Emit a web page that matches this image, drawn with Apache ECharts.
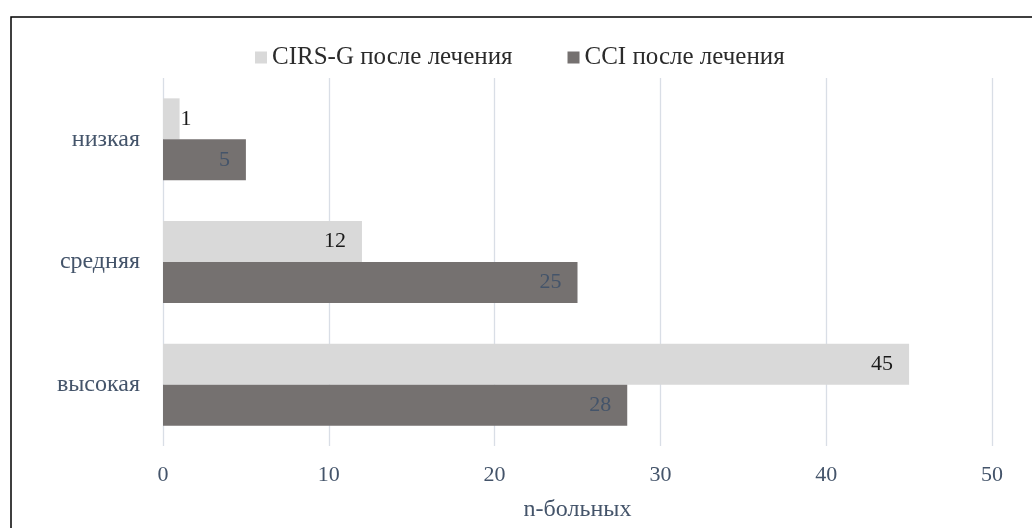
<!DOCTYPE html>
<html>
<head>
<meta charset="utf-8">
<script src="https://cdn.jsdelivr.net/npm/echarts@6/dist/echarts.min.js"></script>
<style>
  html, body { margin: 0; padding: 0; background: #fff; }
  #chart { width: 1032px; height: 528px; }
</style>
</head>
<body>
<div id="chart"></div>
<script>
// Risk level categories, top to bottom
const categories = ['низкая', 'средняя', 'высокая'];
// Number of patients per risk level after treatment
const cirsValues = [1, 12, 45];
const cciValues = [5, 25, 28];
const seriesNames = ['CIRS-G после лечения', 'CCI после лечения'];
const axisTitle = 'n-больных';

const serif = '"Liberation Serif", "Times New Roman", serif';
const slate = '#44546a';

const chart = echarts.init(document.getElementById('chart'));

// Labels for tiny bars sit just past the bar end instead of inside it
const cirsData = cirsValues.map(v => v < 3
  ? { value: v, label: { position: 'right', distance: 1 } }
  : v);

chart.setOption({
  backgroundColor: '#fff',
  animation: false,
  textStyle: { fontFamily: serif },
  graphic: [{
    type: 'rect',
    shape: { x: 11, y: 17, width: 1040, height: 530 },
    style: { fill: 'none', stroke: '#000', lineWidth: 1.5 },
    silent: true
  }],
  legend: {
    top: 40,
    left: 250,
    itemWidth: 12,
    itemHeight: 12,
    itemGap: 55,
    icon: 'rect',
    textStyle: { fontFamily: serif, fontSize: 25, color: '#2b2b2b' },
    data: seriesNames
  },
  grid: { left: 163, right: 40, top: 78, bottom: 82, containLabel: false },
  xAxis: {
    type: 'value',
    min: 0,
    max: 50,
    interval: 10,
    name: axisTitle,
    nameLocation: 'middle',
    nameGap: 52,
    nameTextStyle: { fontFamily: serif, fontSize: 24, color: slate },
    axisLine: { show: false },
    axisTick: { show: false },
    axisLabel: { fontFamily: serif, fontSize: 22, color: slate, margin: 18 },
    splitLine: { show: true, lineStyle: { color: '#d9dee6', width: 1.3 } }
  },
  yAxis: {
    type: 'category',
    inverse: true,
    data: categories,
    axisLine: { show: false },
    axisTick: { show: false },
    axisLabel: { fontFamily: serif, fontSize: 24, color: slate, margin: 23 }
  },
  series: [
    {
      name: seriesNames[0],
      type: 'bar',
      data: cirsData,
      barWidth: 41,
      barGap: '0%',
      itemStyle: { color: '#d9d9d9' },
      label: {
        show: true,
        position: 'insideRight',
        distance: 16,
        fontFamily: serif,
        fontSize: 22,
        color: '#1a1a1a'
      }
    },
    {
      name: seriesNames[1],
      type: 'bar',
      data: cciValues,
      barWidth: 41,
      barGap: '0%',
      itemStyle: { color: '#757170' },
      label: {
        show: true,
        position: 'insideRight',
        distance: 16,
        fontFamily: serif,
        fontSize: 22,
        color: slate
      }
    }
  ]
});
</script>
</body>
</html>
